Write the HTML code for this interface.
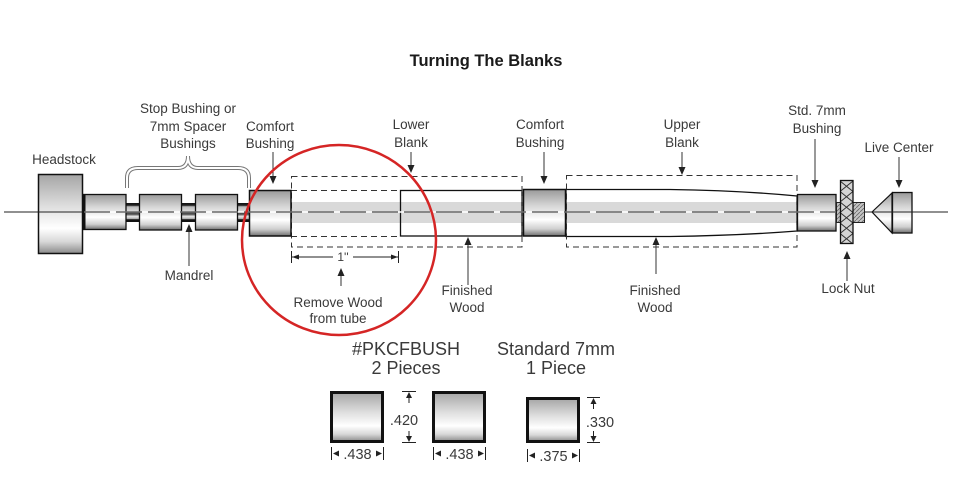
<!DOCTYPE html>
<html><head><meta charset="utf-8">
<style>
html,body{margin:0;padding:0;background:#fff;}
svg{display:block;}
text{font-family:"Liberation Sans",Arial,sans-serif;fill:#3a3a3a;}
.lb{font-size:13.5px;text-anchor:middle;}
.big{font-size:18px;text-anchor:middle;}
.dim{font-size:14.5px;}
</style></head>
<body>
<svg width="960" height="486" viewBox="0 0 960 486" xmlns="http://www.w3.org/2000/svg">
<defs>
  <linearGradient id="cyl" x1="0" y1="0" x2="0" y2="1">
    <stop offset="0" stop-color="#9a9a9a"/>
    <stop offset="0.35" stop-color="#d6d6d6"/>
    <stop offset="0.65" stop-color="#ffffff"/>
    <stop offset="0.85" stop-color="#cfcfcf"/>
    <stop offset="1" stop-color="#6e6e6e"/>
  </linearGradient>
  <linearGradient id="box" x1="0" y1="0" x2="0" y2="1">
    <stop offset="0" stop-color="#a5a5a5"/>
    <stop offset="0.4" stop-color="#dedede"/>
    <stop offset="0.68" stop-color="#ffffff"/>
    <stop offset="0.85" stop-color="#d8d8d8"/>
    <stop offset="1" stop-color="#8a8a8a"/>
  </linearGradient>
  <linearGradient id="mand" x1="0" y1="0" x2="0" y2="1">
    <stop offset="0" stop-color="#111"/>
    <stop offset="0.12" stop-color="#222"/>
    <stop offset="0.2" stop-color="#bbb"/>
    <stop offset="0.45" stop-color="#ddd"/>
    <stop offset="0.5" stop-color="#444"/>
    <stop offset="0.6" stop-color="#555"/>
    <stop offset="0.7" stop-color="#e6e6e6"/>
    <stop offset="0.82" stop-color="#bbb"/>
    <stop offset="0.88" stop-color="#111"/>
    <stop offset="1" stop-color="#111"/>
  </linearGradient>
  <pattern id="knurl" x="840" y="181" width="13" height="10.5" patternUnits="userSpaceOnUse">
    <rect width="13" height="10.5" fill="#d4d4d4"/>
    <path d="M0,0 L13,10.5 M13,0 L0,10.5" stroke="#333" stroke-width="1"/>
  </pattern>
  <pattern id="hatch" x="0" y="0" width="4" height="4" patternUnits="userSpaceOnUse">
    <rect width="4" height="4" fill="#c4c4c4"/>
    <path d="M0,4 L4,0" stroke="#666" stroke-width="0.8"/>
  </pattern>
</defs>

<!-- title -->
<text x="486" y="66" style="font-size:16.5px;font-weight:bold;text-anchor:middle;fill:#1a1a1a;">Turning The Blanks</text>

<!-- centerline solid outside -->
<line x1="4" y1="212" x2="948" y2="212" stroke="#222" stroke-width="1"/>

<!-- mandrel -->
<rect x="82" y="203" width="170" height="19" fill="url(#mand)"/>

<!-- headstock -->
<rect x="38.5" y="174.5" width="44" height="79" fill="url(#box)" stroke="#111" stroke-width="1.5"/>
<line x1="38" y1="212" x2="83" y2="212" stroke="#222" stroke-width="1"/>

<!-- spacers -->
<rect x="83.5" y="194.5" width="42.5" height="35" fill="url(#cyl)" stroke="#111" stroke-width="1.3"/>
<line x1="84" y1="194" x2="84" y2="230" stroke="#111" stroke-width="3"/>
<rect x="139.5" y="194.5" width="42" height="35.5" fill="url(#cyl)" stroke="#111" stroke-width="1.3"/>
<rect x="195.5" y="194.5" width="42" height="35.5" fill="url(#cyl)" stroke="#111" stroke-width="1.3"/>

<!-- brace -->
<path d="M127,188 L127,178 Q127,168 138,168 L178,168 Q188,168 188,156 Q188,168 198,168 L238,168 Q249,168 249,178 L249,188" fill="none" stroke="#777" stroke-width="4"/>
<path d="M127,188 L127,178 Q127,168 138,168 L178,168 Q188,168 188,156 Q188,168 198,168 L238,168 Q249,168 249,178 L249,188" fill="none" stroke="#fff" stroke-width="2"/>

<!-- lower blank region -->
<rect x="291" y="190" width="231" height="46" fill="#fff"/>
<rect x="291" y="202" width="231" height="21" fill="#d9d9d9"/>
<rect x="400.5" y="190.5" width="121.5" height="45.5" fill="none" stroke="#111" stroke-width="1.3"/>
<rect x="291.5" y="176.5" width="230.5" height="70.5" fill="none" stroke="#333" stroke-width="1" stroke-dasharray="6 4"/>
<line x1="291" y1="190.5" x2="400" y2="190.5" stroke="#333" stroke-width="1" stroke-dasharray="6 4"/>
<line x1="291" y1="236.5" x2="400" y2="236.5" stroke="#333" stroke-width="1" stroke-dasharray="6 4"/>

<!-- upper blank -->
<path d="M566,189.5 L670,189.5 Q740,190.5 797,196 L797,231 Q740,235.5 670,236.5 L566,236.5 Z" fill="#fff"/>
<rect x="566" y="202" width="231" height="21" fill="#d9d9d9"/>
<path d="M566,189.5 L670,189.5 Q740,190.5 797,196 L797,231 Q740,235.5 670,236.5 L566,236.5 Z" fill="none" stroke="#111" stroke-width="1.3"/>
<rect x="566.5" y="175.5" width="230.5" height="71.5" fill="none" stroke="#333" stroke-width="1" stroke-dasharray="6 4"/>

<!-- comfort bushings -->
<rect x="249.5" y="190.5" width="41.5" height="45.5" fill="url(#cyl)" stroke="#111" stroke-width="1.5"/>
<rect x="523.5" y="189.5" width="42" height="46.5" fill="url(#cyl)" stroke="#111" stroke-width="1.5"/>

<!-- std 7mm bushing -->
<rect x="797.5" y="194.5" width="38.5" height="36.5" fill="url(#cyl)" stroke="#111" stroke-width="1.3"/>

<!-- dashed centerline inside parts -->
<line x1="84" y1="212" x2="836" y2="212" stroke="#fff" stroke-width="1.5"/>
<line x1="84" y1="212" x2="836" y2="212" stroke="#222" stroke-width="1" stroke-dasharray="26 6"/>

<!-- lock nut -->
<rect x="836.5" y="202.5" width="28" height="20" fill="url(#hatch)" stroke="#222" stroke-width="1"/>
<rect x="840.5" y="180.5" width="12.5" height="63" fill="url(#knurl)" stroke="#111" stroke-width="1.3"/>

<!-- live center -->
<polygon points="872,212 892,193 892,233" fill="url(#cyl)" stroke="#111" stroke-width="1.2"/>
<rect x="892.5" y="192.5" width="19.5" height="40.5" fill="url(#cyl)" stroke="#111" stroke-width="1.3"/>
<line x1="872" y1="212" x2="948" y2="212" stroke="#222" stroke-width="1"/>

<!-- arrows -->
<g stroke="#333" stroke-width="1" fill="#222">
  <line x1="273" y1="152" x2="273" y2="178"/><polygon points="269.5,176 276.5,176 273,184" stroke="none"/>
  <line x1="411" y1="152" x2="411" y2="167"/><polygon points="407.5,165 414.5,165 411,173" stroke="none"/>
  <line x1="544" y1="152" x2="544" y2="178"/><polygon points="540.5,176 547.5,176 544,184" stroke="none"/>
  <line x1="682" y1="152" x2="682" y2="169"/><polygon points="678.5,167 685.5,167 682,175" stroke="none"/>
  <line x1="815" y1="139" x2="815" y2="182"/><polygon points="811.5,180 818.5,180 815,188" stroke="none"/>
  <line x1="899" y1="157" x2="899" y2="182"/><polygon points="895.5,180 902.5,180 899,188" stroke="none"/>
  <line x1="189" y1="266" x2="189" y2="230"/><polygon points="185.5,232 192.5,232 189,224" stroke="none"/>
  <line x1="341" y1="286" x2="341" y2="274"/><polygon points="337.5,276 344.5,276 341,268" stroke="none"/>
  <line x1="468" y1="285" x2="468" y2="243"/><polygon points="464.5,245 471.5,245 468,237" stroke="none"/>
  <line x1="656" y1="274" x2="656" y2="243"/><polygon points="652.5,245 659.5,245 656,237" stroke="none"/>
  <line x1="847" y1="281" x2="847" y2="257"/><polygon points="843.5,259 850.5,259 847,251" stroke="none"/>
</g>

<!-- 1" dimension -->
<g stroke="#222" stroke-width="1" fill="#222">
  <line x1="291.5" y1="251" x2="291.5" y2="263"/>
  <line x1="398.5" y1="251" x2="398.5" y2="263"/>
  <line x1="292" y1="257" x2="333" y2="257"/>
  <line x1="353" y1="257" x2="398" y2="257"/>
  <polygon points="292,257 299,254.5 299,259.5" stroke="none"/>
  <polygon points="398,257 391,254.5 391,259.5" stroke="none"/>
</g>
<text x="343" y="261" style="font-size:12px;text-anchor:middle;">1''</text>

<!-- red circle -->
<ellipse cx="339" cy="240" rx="97" ry="95" fill="none" stroke="#d52525" stroke-width="2.5"/>

<!-- labels -->
<text class="lb" x="64" y="164">Headstock</text>
<text class="lb" x="188" y="113">Stop Bushing or</text>
<text class="lb" x="188" y="131">7mm Spacer</text>
<text class="lb" x="188" y="148">Bushings</text>
<text class="lb" x="270" y="131">Comfort</text>
<text class="lb" x="270" y="148">Bushing</text>
<text class="lb" x="411" y="129">Lower</text>
<text class="lb" x="411" y="147">Blank</text>
<text class="lb" x="540" y="129">Comfort</text>
<text class="lb" x="540" y="147">Bushing</text>
<text class="lb" x="682" y="129">Upper</text>
<text class="lb" x="682" y="147">Blank</text>
<text class="lb" x="817" y="115">Std. 7mm</text>
<text class="lb" x="817" y="133">Bushing</text>
<text class="lb" x="899" y="152">Live Center</text>
<text class="lb" x="189" y="280">Mandrel</text>
<text class="lb" x="338" y="307">Remove Wood</text>
<text class="lb" x="338" y="323">from tube</text>
<text class="lb" x="467" y="295">Finished</text>
<text class="lb" x="467" y="312">Wood</text>
<text class="lb" x="655" y="295">Finished</text>
<text class="lb" x="655" y="312">Wood</text>
<text class="lb" x="848" y="293">Lock Nut</text>

<!-- bottom section -->
<text class="big" x="406" y="355">#PKCFBUSH</text>
<text class="big" x="406" y="374">2 Pieces</text>
<text class="big" x="556" y="355">Standard 7mm</text>
<text class="big" x="556" y="374">1 Piece</text>

<rect x="331.5" y="392.5" width="51" height="49" fill="url(#box)" stroke="#111" stroke-width="3"/>
<rect x="433.5" y="392.5" width="51" height="49" fill="url(#box)" stroke="#111" stroke-width="3"/>
<rect x="527.5" y="398.5" width="51" height="43" fill="url(#box)" stroke="#111" stroke-width="3"/>

<g stroke="#222" stroke-width="1" fill="#222">
  <line x1="402" y1="391.5" x2="416" y2="391.5"/>
  <line x1="402" y1="442.5" x2="416" y2="442.5"/>
  <line x1="409" y1="393" x2="409" y2="403"/>
  <polygon points="406,398 412,398 409,392" stroke="none"/>
  <line x1="409" y1="431" x2="409" y2="441"/>
  <polygon points="406,436 412,436 409,442" stroke="none"/>
  <line x1="587" y1="397.5" x2="600" y2="397.5"/>
  <line x1="587" y1="442.5" x2="600" y2="442.5"/>
  <line x1="593.5" y1="399" x2="593.5" y2="409"/>
  <polygon points="590.5,404 596.5,404 593.5,398" stroke="none"/>
  <line x1="593.5" y1="431" x2="593.5" y2="441"/>
  <polygon points="590.5,436 596.5,436 593.5,442" stroke="none"/>
  <line x1="331.5" y1="447" x2="331.5" y2="460"/>
  <line x1="383.5" y1="447" x2="383.5" y2="460"/>
  <polygon points="333,453.5 339,450.5 339,456.5" stroke="none"/>
  <polygon points="382,453.5 376,450.5 376,456.5" stroke="none"/>
  <line x1="433.5" y1="447" x2="433.5" y2="460"/>
  <line x1="485.5" y1="447" x2="485.5" y2="460"/>
  <polygon points="435,453.5 441,450.5 441,456.5" stroke="none"/>
  <polygon points="484,453.5 478,450.5 478,456.5" stroke="none"/>
  <line x1="527.5" y1="449" x2="527.5" y2="462"/>
  <line x1="579.5" y1="449" x2="579.5" y2="462"/>
  <polygon points="529,455.5 535,452.5 535,458.5" stroke="none"/>
  <polygon points="578,455.5 572,452.5 572,458.5" stroke="none"/>
</g>
<text class="dim" x="404" y="425" text-anchor="middle">.420</text>
<text class="dim" x="600" y="427" text-anchor="middle">.330</text>
<text class="dim" x="357.5" y="459" text-anchor="middle">.438</text>
<text class="dim" x="459.5" y="459" text-anchor="middle">.438</text>
<text class="dim" x="553.5" y="461" text-anchor="middle">.375</text>
</svg>
</body></html>
